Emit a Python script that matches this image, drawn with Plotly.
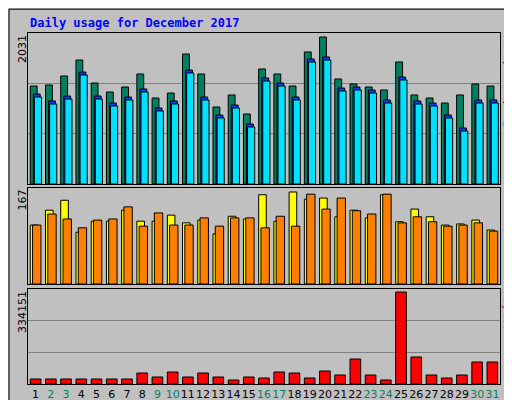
import plotly.graph_objects as go

days = list(range(1, 32))
weekend = {2, 3, 9, 10, 16, 17, 23, 24, 30, 31}
hits_px = [78,77,68,52,75,84,79,66,90,85,46,66,99,87,106,61,66,78,44,29,71,76,79,82,54,87,90,95,87,76,78]
files_px = [86,93,88,64,88,95,89,81,100,93,62,89,107,97,116,70,75,89,51,49,80,79,82,92,69,93,95,107,120,92,92]
hits = [round((176 - p) / 147 * 2031) for p in hits_px]
files = [round((176 - p) / 147 * 2031) for p in files_px]
pages = [round((176 - p - 3) / 147 * 2031) for p in files_px]
visits_px = [217,202,192,224,213,213,202,213,213,207,215,212,226,208,211,187,213,184,191,190,209,202,210,187,214,201,209,217,216,212,222]
sites_px = [217,206,211,220,212,211,199,218,205,217,217,210,218,210,210,220,208,218,186,201,190,203,206,186,215,209,214,218,217,215,223]
visits = [round((276 - p) / 92 * 167) for p in visits_px]
sites = [round((276 - p) / 92 * 167) for p in sites_px]
kb_h = [15,15,15,15,15,15,15,33,21,36,21,33,21,12,21,18,36,33,18,39,27,75,27,12,276,81,27,18,27,66,66]
kbytes = [round(h / 276 * 334151) for h in kb_h]

line = dict(color="black", width=1)
fig = go.Figure()
def bar(y, color, off, w, ax):
    fig.add_trace(go.Bar(x=days, y=y, marker=dict(color=color, line=line), offset=off, width=w,
                         xaxis="x" + ax, yaxis="y" + ax))
bar(hits, "#008060", -0.35, 0.45, "")
bar(files, "#0040FF", -0.15, 0.45, "")
bar(pages, "#00E0FF", -0.08, 0.47, "")
bar(visits, "#FFFF00", -0.35, 0.5, "2")
bar(sites, "#FF8000", -0.2, 0.55, "2")
bar(kbytes, "#FF0000", -0.35, 0.7, "3")

xd = [20/512, 492/512]
ticktext = [f'<span style="color:#008060">{d}</span>' if d in weekend else str(d) for d in days]
xcommon = dict(range=[0.5, 31.5], domain=xd, showline=True, linecolor="black", mirror=True,
               showgrid=False, zeroline=False, fixedrange=True)
def ycommon(dom, mx, grid):
    return dict(domain=dom, range=[0, mx], showline=True, linecolor="black", mirror=True,
                tickvals=[mx/3, 2*mx/3] if grid else [], showticklabels=False, showgrid=grid,
                gridcolor="#808080", gridwidth=1, zeroline=False, ticks="")
fig.update_layout(
    width=512, height=400, margin=dict(l=0, r=0, t=0, b=0), showlegend=False,
    paper_bgcolor="#C0C0C0", plot_bgcolor="#C0C0C0", barmode="overlay",
    font=dict(family="DejaVu Sans", size=11, color="black"),
    xaxis=dict(**xcommon, anchor="y", showticklabels=False),
    xaxis2=dict(**xcommon, anchor="y2", showticklabels=False),
    xaxis3=dict(**xcommon, anchor="y3", tickvals=days, ticktext=ticktext, ticks="",
                tickangle=0, tickfont=dict(size=11), automargin=False),
    yaxis=ycommon([1-176/400, 1-25/400], 2031*151/147, True),
    yaxis2=ycommon([1-276/400, 1-180/400], 167*96/92, False),
    yaxis3=ycommon([1-376/400, 1-281/400], 334151*95/92, True),
)
P = dict(xref="paper", yref="paper", showarrow=False)
mono = "DejaVu Sans Mono"
ann = [
    dict(**P, x=20/512, y=1-15/400, text="<b>Daily usage for December 2017</b>",
         xanchor="left", yanchor="middle", font=dict(family=mono, size=12, color="#0000FF")),
    dict(**P, x=14/512, y=1-25/400, text="2031", textangle=-90, xanchor="center", yanchor="top"),
    dict(**P, x=14/512, y=1-180/400, text="167", textangle=-90, xanchor="center", yanchor="top"),
    dict(**P, x=14/512, y=1-281/400, text="334151", textangle=-90, xanchor="center", yanchor="top"),
    dict(**P, x=500/512, y=1-25/400, textangle=90, xanchor="center", yanchor="top",
         text='<span style="color:#008060">Hits</span>/<span style="color:#0040FF">Files</span>/<span style="color:#00C0E0">Pages</span>',
         font=dict(family=mono, size=11)),
    dict(**P, x=500/512, y=1-180/400, textangle=90, xanchor="center", yanchor="top",
         text='<span style="color:#E0C000">Visits</span>/<span style="color:#FF8000">Sites</span>',
         font=dict(family=mono, size=11)),
    dict(**P, x=500/512, y=1-281/400, textangle=90, xanchor="center", yanchor="top",
         text='<span style="color:#FF0000">KBytes</span>', font=dict(family=mono, size=11)),
]
fig.update_layout(annotations=ann)
fig.add_shape(type="rect", xref="paper", yref="paper", x0=0.002, y0=0.003, x1=0.998, y1=0.997,
              line=dict(color="black", width=1))
fig.add_shape(type="line", xref="paper", yref="paper", x0=0.006, y0=0.006, x1=0.994, y1=0.006,
              line=dict(color="#808080", width=3))
fig.add_shape(type="line", xref="paper", yref="paper", x0=0.994, y0=0.006, x1=0.994, y1=0.99,
              line=dict(color="#808080", width=3))
fig.write_html("out.html")
